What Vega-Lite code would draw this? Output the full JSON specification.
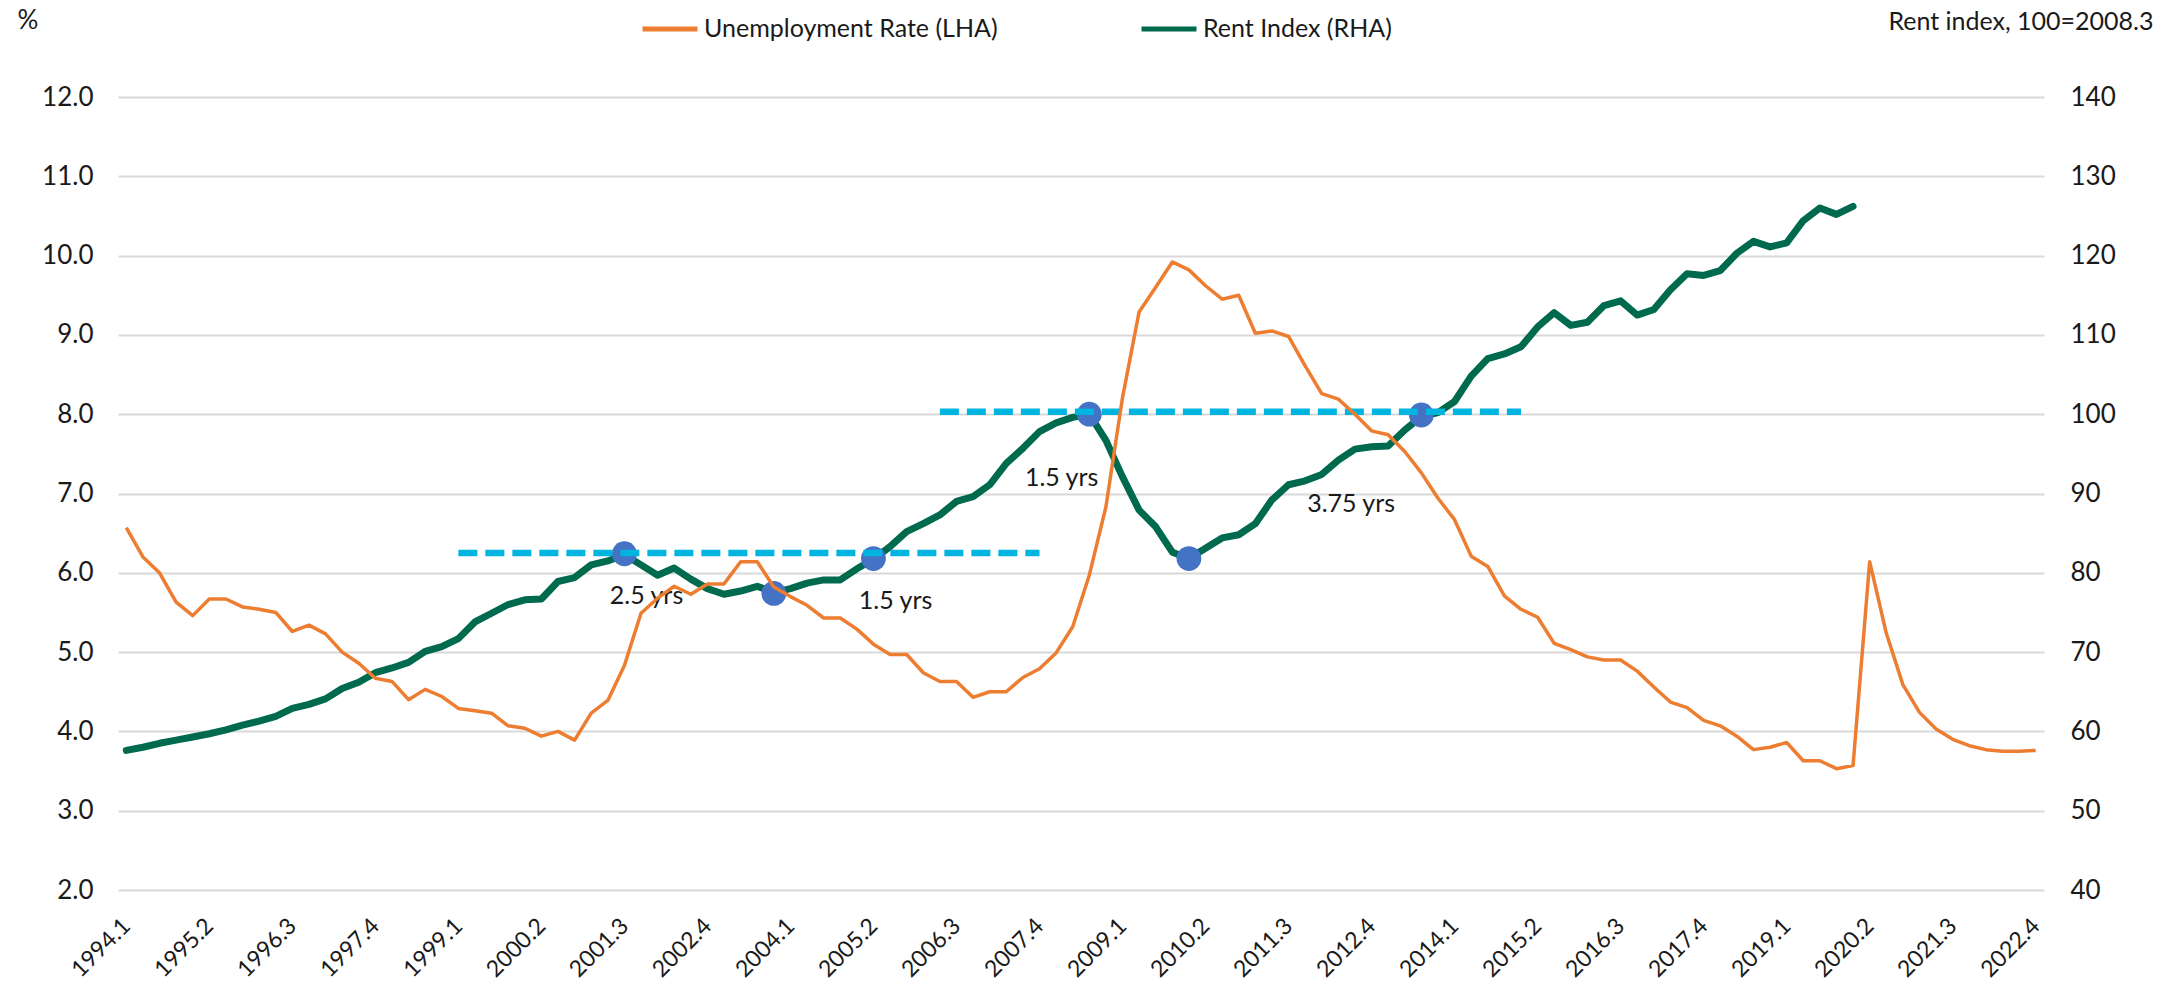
{
  "$schema": "https://vega.github.io/schema/vega-lite/v6.json",
  "width": 1926,
  "height": 793,
  "autosize": "none",
  "padding": {"left": 118, "top": 97, "right": 137, "bottom": 96},
  "background": "white",
  "config": {
    "font": "Lato",
    "view": {"stroke": null},
    "axis": {"labelFont": "Lato", "labelFontSize": 26, "labelColor": "#1a1a1a", "titleFont": "Lato", "titleFontSize": 26, "titleFontWeight": "normal", "titleColor": "#1a1a1a", "domain": false, "ticks": false},
    "legend": {"labelFont": "Lato", "labelFontSize": 25, "labelColor": "#1a1a1a"}
  },
  "data": {
    "values": [
      {"q": "1994.1", "unemp": 6.57, "rent": 57.6},
      {"q": "1994.2", "unemp": 6.20, "rent": 58.0},
      {"q": "1994.3", "unemp": 6.00, "rent": 58.5},
      {"q": "1994.4", "unemp": 5.63, "rent": 58.9},
      {"q": "1995.1", "unemp": 5.46, "rent": 59.3},
      {"q": "1995.2", "unemp": 5.67, "rent": 59.7},
      {"q": "1995.3", "unemp": 5.67, "rent": 60.2},
      {"q": "1995.4", "unemp": 5.57, "rent": 60.8},
      {"q": "1996.1", "unemp": 5.54, "rent": 61.3},
      {"q": "1996.2", "unemp": 5.50, "rent": 61.9},
      {"q": "1996.3", "unemp": 5.26, "rent": 62.9},
      {"q": "1996.4", "unemp": 5.34, "rent": 63.4},
      {"q": "1997.1", "unemp": 5.23, "rent": 64.1},
      {"q": "1997.2", "unemp": 5.00, "rent": 65.4},
      {"q": "1997.3", "unemp": 4.86, "rent": 66.2},
      {"q": "1997.4", "unemp": 4.67, "rent": 67.4},
      {"q": "1998.1", "unemp": 4.63, "rent": 68.0},
      {"q": "1998.2", "unemp": 4.40, "rent": 68.7},
      {"q": "1998.3", "unemp": 4.53, "rent": 70.1},
      {"q": "1998.4", "unemp": 4.44, "rent": 70.7},
      {"q": "1999.1", "unemp": 4.29, "rent": 71.7},
      {"q": "1999.2", "unemp": 4.26, "rent": 73.8},
      {"q": "1999.3", "unemp": 4.23, "rent": 74.9},
      {"q": "1999.4", "unemp": 4.07, "rent": 76.0},
      {"q": "2000.1", "unemp": 4.04, "rent": 76.6},
      {"q": "2000.2", "unemp": 3.94, "rent": 76.7},
      {"q": "2000.3", "unemp": 4.00, "rent": 78.9},
      {"q": "2000.4", "unemp": 3.89, "rent": 79.4},
      {"q": "2001.1", "unemp": 4.23, "rent": 81.0},
      {"q": "2001.2", "unemp": 4.39, "rent": 81.5},
      {"q": "2001.3", "unemp": 4.83, "rent": 82.3},
      {"q": "2001.4", "unemp": 5.49, "rent": 81.0},
      {"q": "2002.1", "unemp": 5.68, "rent": 79.7},
      {"q": "2002.2", "unemp": 5.83, "rent": 80.6},
      {"q": "2002.3", "unemp": 5.73, "rent": 79.2},
      {"q": "2002.4", "unemp": 5.86, "rent": 78.0},
      {"q": "2003.1", "unemp": 5.86, "rent": 77.3},
      {"q": "2003.2", "unemp": 6.14, "rent": 77.7},
      {"q": "2003.3", "unemp": 6.14, "rent": 78.3},
      {"q": "2003.4", "unemp": 5.82, "rent": 77.5},
      {"q": "2004.1", "unemp": 5.70, "rent": 78.0},
      {"q": "2004.2", "unemp": 5.59, "rent": 78.7},
      {"q": "2004.3", "unemp": 5.43, "rent": 79.1},
      {"q": "2004.4", "unemp": 5.43, "rent": 79.1},
      {"q": "2005.1", "unemp": 5.29, "rent": 80.5},
      {"q": "2005.2", "unemp": 5.10, "rent": 81.7},
      {"q": "2005.3", "unemp": 4.97, "rent": 83.3},
      {"q": "2005.4", "unemp": 4.97, "rent": 85.2},
      {"q": "2006.1", "unemp": 4.74, "rent": 86.2},
      {"q": "2006.2", "unemp": 4.63, "rent": 87.3},
      {"q": "2006.3", "unemp": 4.63, "rent": 89.0},
      {"q": "2006.4", "unemp": 4.43, "rent": 89.6},
      {"q": "2007.1", "unemp": 4.50, "rent": 91.1},
      {"q": "2007.2", "unemp": 4.50, "rent": 93.8},
      {"q": "2007.3", "unemp": 4.68, "rent": 95.7},
      {"q": "2007.4", "unemp": 4.79, "rent": 97.8},
      {"q": "2008.1", "unemp": 4.99, "rent": 98.9},
      {"q": "2008.2", "unemp": 5.32, "rent": 99.6},
      {"q": "2008.3", "unemp": 5.97, "rent": 100.0},
      {"q": "2008.4", "unemp": 6.83, "rent": 96.7},
      {"q": "2009.1", "unemp": 8.21, "rent": 92.1},
      {"q": "2009.2", "unemp": 9.29, "rent": 87.9},
      {"q": "2009.3", "unemp": 9.60, "rent": 85.8},
      {"q": "2009.4", "unemp": 9.92, "rent": 82.6},
      {"q": "2010.1", "unemp": 9.82, "rent": 81.8},
      {"q": "2010.2", "unemp": 9.62, "rent": 83.1},
      {"q": "2010.3", "unemp": 9.45, "rent": 84.4},
      {"q": "2010.4", "unemp": 9.50, "rent": 84.8},
      {"q": "2011.1", "unemp": 9.02, "rent": 86.2},
      {"q": "2011.2", "unemp": 9.05, "rent": 89.2},
      {"q": "2011.3", "unemp": 8.98, "rent": 91.1},
      {"q": "2011.4", "unemp": 8.61, "rent": 91.6},
      {"q": "2012.1", "unemp": 8.26, "rent": 92.4},
      {"q": "2012.2", "unemp": 8.19, "rent": 94.2},
      {"q": "2012.3", "unemp": 8.00, "rent": 95.6},
      {"q": "2012.4", "unemp": 7.79, "rent": 95.9},
      {"q": "2013.1", "unemp": 7.74, "rent": 96.0},
      {"q": "2013.2", "unemp": 7.53, "rent": 98.0},
      {"q": "2013.3", "unemp": 7.26, "rent": 99.7},
      {"q": "2013.4", "unemp": 6.94, "rent": 100.2},
      {"q": "2014.1", "unemp": 6.67, "rent": 101.6},
      {"q": "2014.2", "unemp": 6.21, "rent": 104.8},
      {"q": "2014.3", "unemp": 6.08, "rent": 107.0},
      {"q": "2014.4", "unemp": 5.71, "rent": 107.6},
      {"q": "2015.1", "unemp": 5.54, "rent": 108.5},
      {"q": "2015.2", "unemp": 5.44, "rent": 111.0},
      {"q": "2015.3", "unemp": 5.11, "rent": 112.8},
      {"q": "2015.4", "unemp": 5.03, "rent": 111.2},
      {"q": "2016.1", "unemp": 4.94, "rent": 111.6},
      {"q": "2016.2", "unemp": 4.90, "rent": 113.7},
      {"q": "2016.3", "unemp": 4.90, "rent": 114.3},
      {"q": "2016.4", "unemp": 4.76, "rent": 112.5},
      {"q": "2017.1", "unemp": 4.56, "rent": 113.2},
      {"q": "2017.2", "unemp": 4.37, "rent": 115.7},
      {"q": "2017.3", "unemp": 4.30, "rent": 117.7},
      {"q": "2017.4", "unemp": 4.14, "rent": 117.5},
      {"q": "2018.1", "unemp": 4.07, "rent": 118.1},
      {"q": "2018.2", "unemp": 3.94, "rent": 120.3},
      {"q": "2018.3", "unemp": 3.77, "rent": 121.8},
      {"q": "2018.4", "unemp": 3.80, "rent": 121.1},
      {"q": "2019.1", "unemp": 3.86, "rent": 121.6},
      {"q": "2019.2", "unemp": 3.63, "rent": 124.4},
      {"q": "2019.3", "unemp": 3.63, "rent": 126.0},
      {"q": "2019.4", "unemp": 3.53, "rent": 125.2},
      {"q": "2020.1", "unemp": 3.57, "rent": 126.2},
      {"q": "2020.2", "unemp": 6.14},
      {"q": "2020.3", "unemp": 5.24},
      {"q": "2020.4", "unemp": 4.59},
      {"q": "2021.1", "unemp": 4.24},
      {"q": "2021.2", "unemp": 4.03},
      {"q": "2021.3", "unemp": 3.90},
      {"q": "2021.4", "unemp": 3.82},
      {"q": "2022.1", "unemp": 3.77},
      {"q": "2022.2", "unemp": 3.75},
      {"q": "2022.3", "unemp": 3.75},
      {"q": "2022.4", "unemp": 3.76}
    ]
  },
  "layer": [
    {
      "layer": [
        {
          "mark": {"type": "line", "strokeWidth": 7, "strokeJoin": "round", "strokeCap": "round"},
          "encoding": {
            "x": {
              "field": "q", "type": "ordinal",
              "scale": {"type": "point", "padding": 0.5},
              "axis": {
                "title": null,
                "values": ["1994.1","1995.2","1996.3","1997.4","1999.1","2000.2","2001.3","2002.4","2004.1","2005.2","2006.3","2007.4","2009.1","2010.2","2011.3","2012.4","2014.1","2015.2","2016.3","2017.4","2019.1","2020.2","2021.3","2022.4"],
                "labelAngle": -45, "labelAlign": "right", "labelBaseline": "middle", "labelPadding": 32, "labelFontSize": 23, "grid": false
              }
            },
            "y": {
              "field": "rent", "type": "quantitative",
              "scale": {"domain": [40, 140], "nice": false, "zero": false},
              "axis": {
                "orient": "right", "values": [40, 50, 60, 70, 80, 90, 100, 110, 120, 130, 140], "grid": false,
                "labelPadding": 26, "title": "Rent index, 100=2008.3", "titleAngle": 0, "titleAlign": "right",
                "titleBaseline": "middle", "titleX": 109, "titleY": -76, "titleFontSize": 25
              }
            },
            "color": {"datum": "Rent Index (RHA)"}
          }
        },
        {
          "data": {"values": [
            {"dq": "2001.3", "dv": 82.4},
            {"dq": "2003.4", "dv": 77.4},
            {"dq": "2005.2", "dv": 81.8},
            {"dq": "2008.3", "dv": 100.0},
            {"dq": "2010.1", "dv": 81.8},
            {"dq": "2013.3", "dv": 99.9}
          ]},
          "mark": {"type": "point", "filled": true, "size": 615, "color": "#4472C4", "opacity": 1},
          "encoding": {
            "x": {"field": "dq", "type": "ordinal"},
            "y": {"field": "dv", "type": "quantitative"}
          }
        },
        {
          "data": {"values": [
            {"start": "1999.1", "end": "2007.4", "level": 82.5},
            {"start": "2006.2", "end": "2015.1", "level": 100.3}
          ]},
          "mark": {"type": "rule", "color": "#00B4E0", "strokeWidth": 6.5, "strokeDash": [19, 8]},
          "encoding": {
            "x": {"field": "start", "type": "ordinal"},
            "x2": {"field": "end"},
            "y": {"field": "level", "type": "quantitative"}
          }
        },
        {
          "data": {"values": [
            {"tq": "2001.2", "tv": 77.1, "label": "2.5 yrs"},
            {"tq": "2005.1", "tv": 76.4, "label": "1.5 yrs"},
            {"tq": "2007.3", "tv": 92.0, "label": "1.5 yrs"},
            {"tq": "2011.4", "tv": 88.7, "label": "3.75 yrs"}
          ]},
          "mark": {"type": "text", "align": "left", "baseline": "middle", "dx": 2, "fontSize": 25, "font": "Lato", "color": "#1a1a1a"},
          "encoding": {
            "x": {"field": "tq", "type": "ordinal"},
            "y": {"field": "tv", "type": "quantitative"},
            "text": {"field": "label"}
          }
        }
      ]
    },
    {
      "mark": {"type": "line", "strokeWidth": 3.5, "strokeJoin": "round"},
      "encoding": {
        "x": {"field": "q", "type": "ordinal"},
        "y": {
          "field": "unemp", "type": "quantitative",
          "scale": {"domain": [2, 12], "nice": false, "zero": false},
          "axis": {
            "orient": "left", "values": [2, 3, 4, 5, 6, 7, 8, 9, 10, 11, 12], "format": ".1f",
            "grid": true, "gridColor": "#D9D9D9", "gridWidth": 2, "labelPadding": 25,
            "title": "%", "titleAngle": 0, "titleAlign": "left", "titleBaseline": "middle", "titleX": -101, "titleY": -77
          }
        },
        "color": {
          "datum": "Unemployment Rate (LHA)",
          "scale": {"domain": ["Unemployment Rate (LHA)", "Rent Index (RHA)"], "range": ["#ED7D31", "#006A4E"]},
          "legend": {
            "title": null, "orient": "none", "direction": "horizontal", "legendX": 522, "legendY": -98,
            "symbolType": "stroke", "symbolSize": 3025, "symbolStrokeWidth": 5, "labelOffset": 4,
            "columnPadding": 133, "padding": 0, "labelLimit": 0
          }
        }
      }
    }
  ],
  "resolve": {"scale": {"y": "independent"}}
}
